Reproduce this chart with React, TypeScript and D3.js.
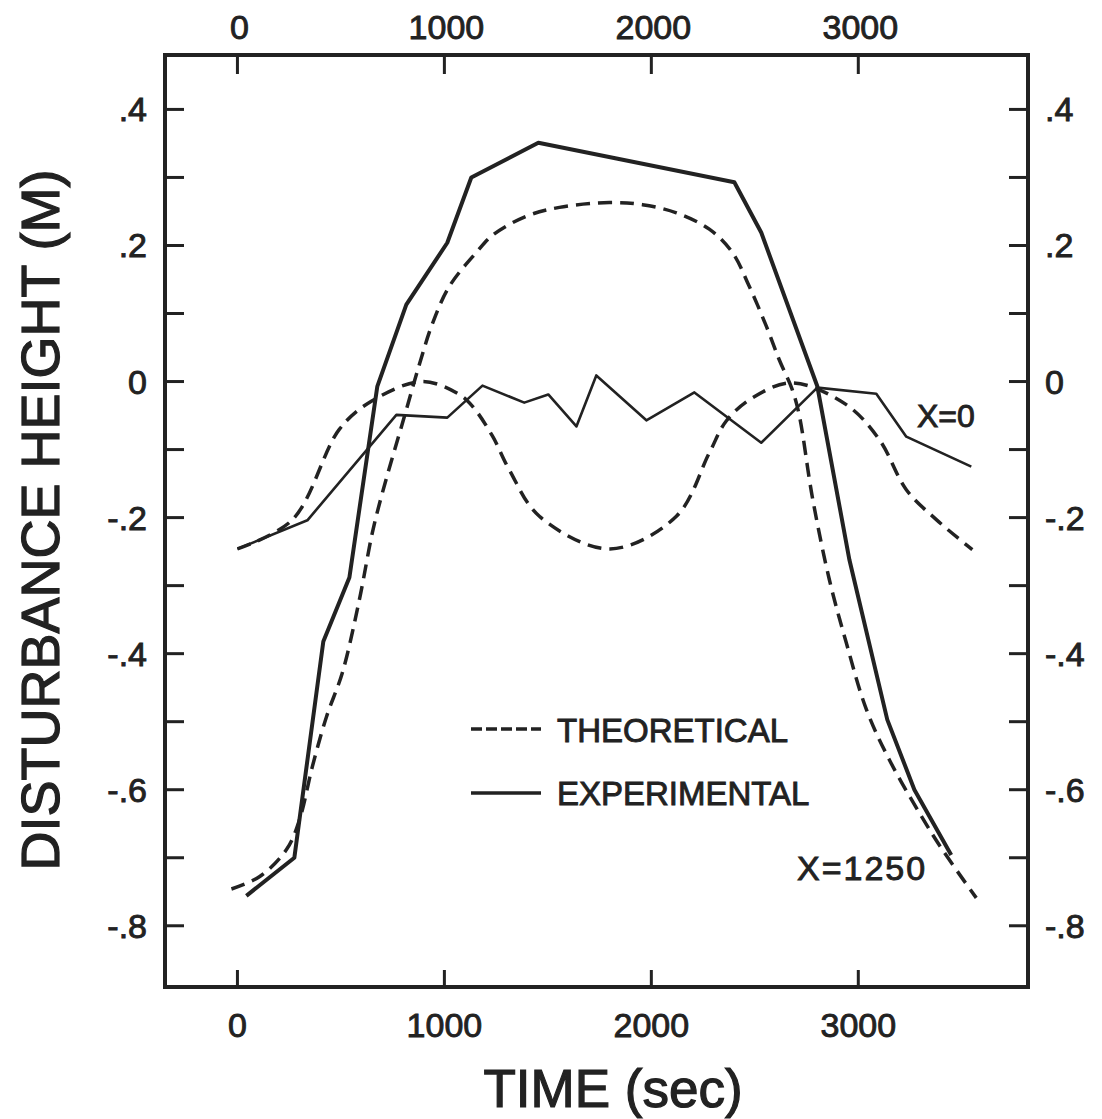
import React from "react";
import * as d3 from "d3";

// Time (sec) values and disturbance height (m)
const expX1250T = [43, 275, 415, 541, 676, 816, 1014, 1130, 1454, 2401, 2531, 2802, 2957, 3140, 3271, 3449];
const expX1250V = [-0.756, -0.7, -0.382, -0.288, -0.007, 0.113, 0.204, 0.3, 0.351, 0.293, 0.219, -0.007, -0.262, -0.497, -0.6, -0.696];

const expX0T = [0, 338, 768, 1014, 1184, 1386, 1502, 1638, 1734, 1976, 2208, 2531, 2802, 3087, 3232, 3546];
const expX0V = [-0.246, -0.204, -0.049, -0.053, -0.006, -0.031, -0.019, -0.066, 0.009, -0.057, -0.016, -0.09, -0.009, -0.018, -0.081, -0.125];

const thX0T = [0, 266, 493, 647, 894, 1072, 1135, 1232, 1314, 1459, 1800, 2121, 2280, 2362, 2488, 2681, 2942, 3101, 3232, 3377, 3551];
const thX0V = [-0.246, -0.203, -0.07, -0.029, 0.0, -0.019, -0.036, -0.08, -0.13, -0.198, -0.246, -0.198, -0.105, -0.058, -0.024, -0.002, -0.034, -0.085, -0.159, -0.203, -0.247];

const thX1250T = [-29, 106, 237, 300, 362, 430, 507, 589, 652, 700, 807, 879, 942, 1024, 1155, 1232, 1396, 1556, 1797, 1957, 2121, 2280, 2391, 2473, 2556, 2618, 2681, 2715, 2778, 2860, 2942, 3039, 3150, 3295, 3406, 3570];
const thX1250V = [-0.746, -0.728, -0.688, -0.644, -0.566, -0.493, -0.428, -0.321, -0.222, -0.164, -0.051, 0.025, 0.085, 0.14, 0.19, 0.215, 0.243, 0.256, 0.263, 0.26, 0.248, 0.224, 0.19, 0.14, 0.081, 0.032, -0.012, -0.05, -0.17, -0.291, -0.384, -0.482, -0.556, -0.634, -0.688, -0.759];

const xTicks = [0, 1000, 2000, 3000];
const yMinorTicks = [-0.8, -0.7, -0.6, -0.5, -0.4, -0.3, -0.2, -0.1, 0, 0.1, 0.2, 0.3, 0.4];
const yLabelTicks = [0.4, 0.2, 0, -0.2, -0.4, -0.6, -0.8];
const yLabelText = [".4", ".2", "0", "-.2", "-.4", "-.6", "-.8"];

const INK = "#222";
const FONT = "'Liberation Sans', Arial, sans-serif";

export default function App() {
  const L = 165, R = 1028, T = 55, B = 987;
  const x = d3.scaleLinear().domain([-350, 3820]).range([L, R]);
  const y = d3.scaleLinear().domain([-0.89, 0.48]).range([B, T]);

  const zip = (ts: number[], vs: number[]) => ts.map((t, i) => [t, vs[i]] as [number, number]);
  const lin = d3.line<[number, number]>().x(d => x(d[0])).y(d => y(d[1]));
  const smooth = d3.line<[number, number]>().x(d => x(d[0])).y(d => y(d[1])).curve(d3.curveCatmullRom.alpha(0.5));

  const txt = { fontFamily: FONT, fill: INK, stroke: INK, strokeWidth: 0.9 } as const;

  return (
    <svg width={1102} height={1119} style={{ position: "absolute", left: 0, top: 0, background: "#fff" }}>
      <rect x={0} y={0} width={1102} height={1119} fill="#fff" />
      {/* frame */}
      <rect x={L} y={T} width={R - L} height={B - T} fill="none" stroke={INK} strokeWidth={4} />
      {/* x ticks top & bottom */}
      {xTicks.map(t => (
        <g key={"xt" + t}>
          <line x1={x(t)} x2={x(t)} y1={T} y2={T + 19} stroke={INK} strokeWidth={3} />
          <line x1={x(t)} x2={x(t)} y1={B} y2={B - 17} stroke={INK} strokeWidth={3} />
          <text x={x(t) + 2} y={39} textAnchor="middle" fontSize={34} {...txt}>{t}</text>
          <text x={x(t)} y={1037} textAnchor="middle" fontSize={34} {...txt}>{t}</text>
        </g>
      ))}
      {/* y ticks left & right */}
      {yMinorTicks.map(v => (
        <g key={"yt" + v}>
          <line x1={L} x2={L + 19} y1={y(v)} y2={y(v)} stroke={INK} strokeWidth={3} />
          <line x1={R} x2={R - 19} y1={y(v)} y2={y(v)} stroke={INK} strokeWidth={3} />
        </g>
      ))}
      {yLabelTicks.map((v, i) => (
        <g key={"yl" + v}>
          <text x={147} y={y(v) + 12} textAnchor="end" fontSize={34} {...txt}>{yLabelText[i]}</text>
          <text x={1045} y={y(v) + 12} textAnchor="start" fontSize={34} {...txt}>{yLabelText[i]}</text>
        </g>
      ))}
      {/* curves */}
      <path d={smooth(zip(thX1250T, thX1250V)) || ""} fill="none" stroke={INK} strokeWidth={3.5} strokeDasharray="14 8" />
      <path d={smooth(zip(thX0T, thX0V)) || ""} fill="none" stroke={INK} strokeWidth={3.5} strokeDasharray="14 8" />
      <path d={lin(zip(expX1250T, expX1250V)) || ""} fill="none" stroke={INK} strokeWidth={4} strokeLinejoin="round" />
      <path d={lin(zip(expX0T, expX0V)) || ""} fill="none" stroke={INK} strokeWidth={2.6} strokeLinejoin="round" />
      {/* curve labels */}
      <text x={917} y={427} fontSize={32} {...txt}>X=0</text>
      <text x={797} y={880} fontSize={34} letterSpacing={2} {...txt}>X=1250</text>
      {/* legend */}
      <line x1={471} x2={541} y1={729} y2={729} stroke={INK} strokeWidth={3.5} strokeDasharray="11 4" />
      <text x={557} y={742} fontSize={33} {...txt}>THEORETICAL</text>
      <line x1={471} x2={541} y1={793} y2={793} stroke={INK} strokeWidth={3.5} />
      <text x={557} y={805} fontSize={33} {...txt}>EXPERIMENTAL</text>
      {/* axis titles */}
      <text x={613} y={1107} textAnchor="middle" fontSize={53} {...txt} strokeWidth={1.2}>TIME (sec)</text>
      <text transform="translate(59,520) rotate(-90)" textAnchor="middle" fontSize={54} {...txt} strokeWidth={1.2}>DISTURBANCE HEIGHT (M)</text>
    </svg>
  );
}
